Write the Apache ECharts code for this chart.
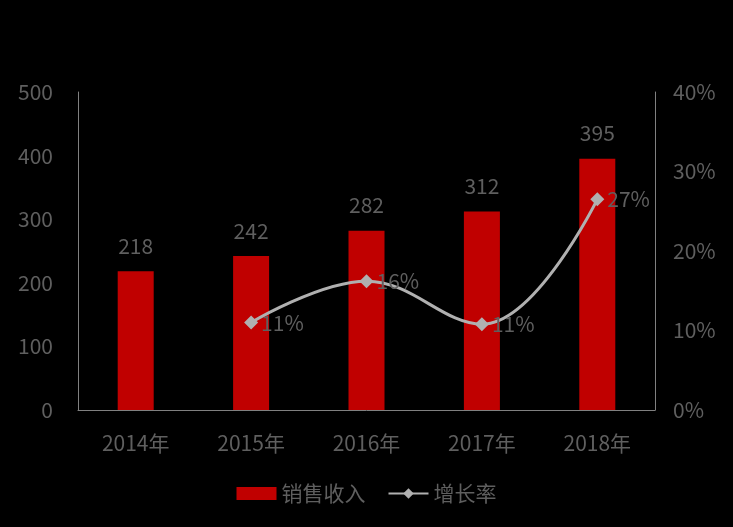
<!DOCTYPE html>
<html><head><meta charset="utf-8">
<script src="https://cdn.jsdelivr.net/npm/echarts@6/dist/echarts.min.js"></script>
<style>html,body{margin:0;padding:0;background:#000;}#c{width:733px;height:527px;}</style>
</head><body><div id="c"></div>
<script>
const categories = ['2014年','2015年','2016年','2017年','2018年'];
const sales = [218, 242, 282, 312, 395];
const growth = [null, 11.0, 16.2, 10.8, 26.5];
const leftTicks = [0,100,200,300,400,500];
const rightTicks = ['0%','10%','20%','30%','40%'];

const font = '"Noto Sans CJK SC", "Open Sans", sans-serif';
const txt = '#5f5f5f';
const chart = echarts.init(document.getElementById('c'));
chart.setOption({
  backgroundColor: '#000',
  textStyle: {fontFamily: font},
  grid: {left: 78, right: 78, top: 92, bottom: 117},
  legend: {
    bottom: 18, left: 'center', itemGap: 22, itemWidth: 40, itemHeight: 13,
    textStyle: {color: txt, fontSize: 21, fontFamily: font},
    data: [{name: '销售收入', icon: 'rect'}, {name: '增长率'}]
  },
  xAxis: {
    type: 'category', data: categories,
    axisLine: {lineStyle: {color: '#808080', width: 1}},
    axisTick: {show: false},
    axisLabel: {color: txt, fontSize: 21, margin: 23, fontFamily: font}
  },
  yAxis: [{
    type: 'value', min: 0, max: 500, interval: 100,
    axisLine: {show: true, lineStyle: {color: '#808080'}},
    splitLine: {show: false},
    axisLabel: {color: txt, fontSize: 21, margin: 25, fontFamily: font,
      formatter: v => leftTicks.includes(v) ? String(v) : ''}
  }, {
    type: 'value', min: 0, max: 40, interval: 10,
    axisLine: {show: true, lineStyle: {color: '#808080'}},
    splitLine: {show: false},
    axisLabel: {color: txt, fontSize: 21, margin: 18, fontFamily: font,
      formatter: v => rightTicks[v / 10]}
  }],
  series: [{
    name: '销售收入', type: 'bar', data: sales, barWidth: 36,
    itemStyle: {color: '#C00000'},
    label: {show: true, position: 'top', distance: 15, color: txt, fontSize: 21, fontFamily: font}
  }, {
    name: '增长率', type: 'line', yAxisIndex: 1, data: growth, smooth: 0.4,
    symbol: 'diamond', symbolSize: 14,
    lineStyle: {color: '#B0B0B0', width: 3},
    itemStyle: {color: '#B0B0B0'},
    label: {show: true, position: 'right', distance: 3, color: txt, fontSize: 21, fontFamily: font,
      formatter: p => Math.round(p.value) + '%'}
  }]
});
</script></body></html>
